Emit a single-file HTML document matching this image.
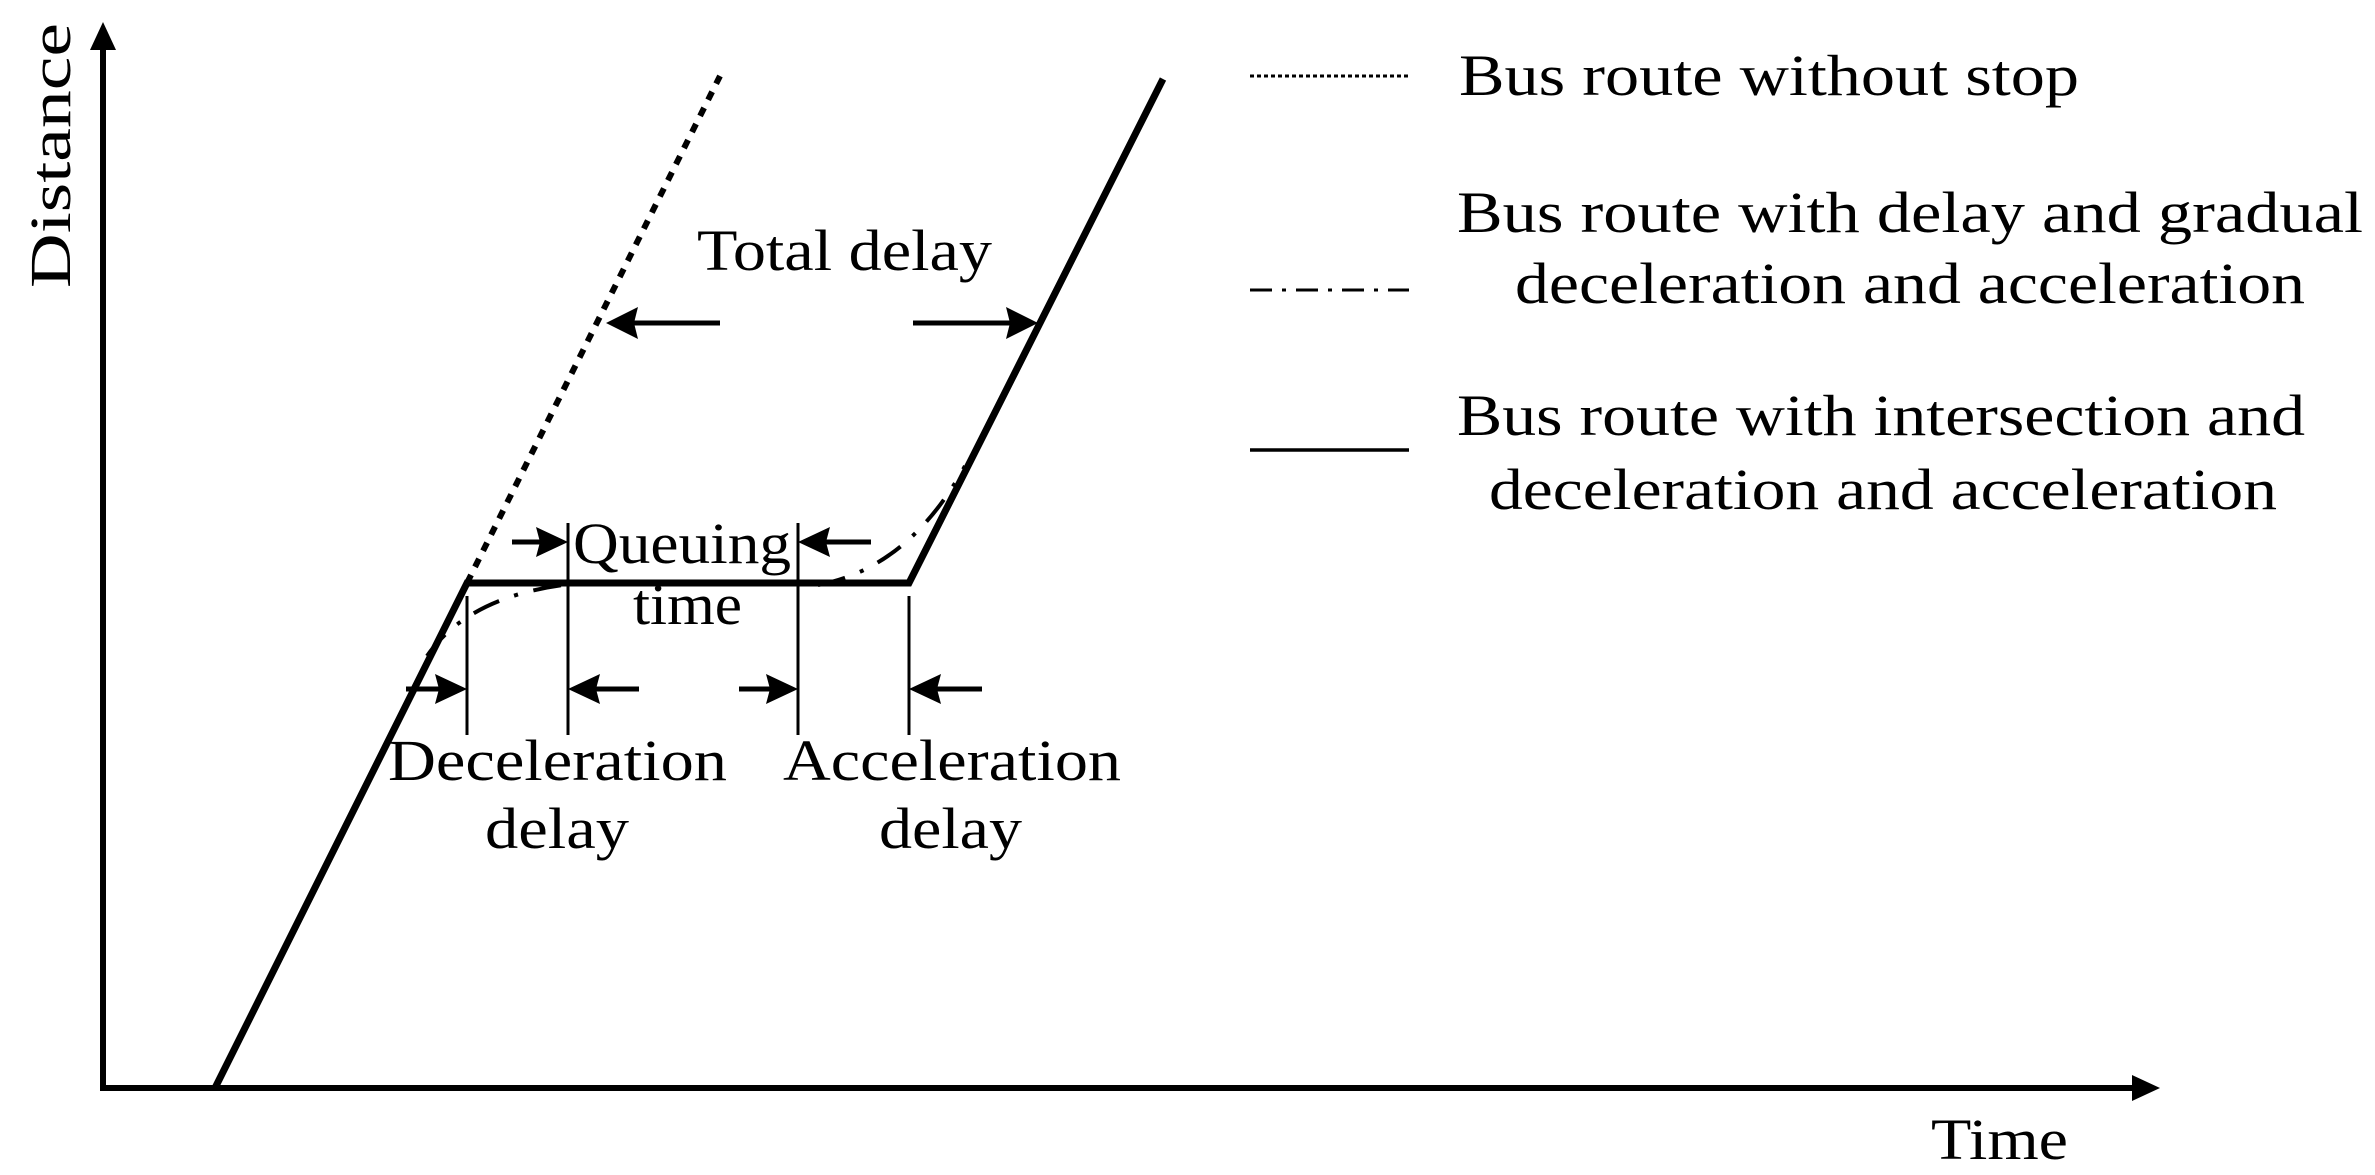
<!DOCTYPE html>
<html><head><meta charset="utf-8"><style>html,body{margin:0;padding:0;background:#fff}svg{display:block}</style></head>
<body>
<svg width="2375" height="1175" viewBox="0 0 2375 1175" xmlns="http://www.w3.org/2000/svg" font-family="'Liberation Serif', serif" font-size="58" fill="#000">
<defs>
<marker id="ah" markerWidth="10" markerHeight="10" refX="10" refY="5" orient="auto" markerUnits="userSpaceOnUse" viewBox="0 0 10 10"></marker>
</defs>
<!-- axes -->
<line x1="103" y1="1088" x2="103" y2="45" stroke="#000" stroke-width="6"/>
<polygon points="103,22 90,50 116,50" fill="#000"/>
<line x1="100" y1="1088" x2="2135" y2="1088" stroke="#000" stroke-width="6"/>
<polygon points="2160,1088 2132,1075 2132,1101" fill="#000"/>
<!-- solid route -->
<polyline points="215,1088 467,583 909,583 1163,79" fill="none" stroke="#000" stroke-width="7" stroke-linejoin="miter"/>
<!-- dotted -->
<line x1="467" y1="583" x2="720" y2="76" stroke="#000" stroke-width="6" stroke-dasharray="9 9"/>
<!-- dash-dot curves -->
<path d="M427,656 Q467,598 563,585" fill="none" stroke="#000" stroke-width="4" stroke-dasharray="28 16 4 16"/>
<path d="M818,585 Q909,568 965,466" fill="none" stroke="#000" stroke-width="4" stroke-dasharray="28 16 4 16"/>
<!-- thin verticals -->
<g stroke="#000" stroke-width="3">
<line x1="467" y1="596" x2="467" y2="735"/>
<line x1="568" y1="523" x2="568" y2="735"/>
<line x1="798" y1="523" x2="798" y2="735"/>
<line x1="909" y1="596" x2="909" y2="735"/>
</g>
<!-- arrows -->
<g stroke="#000" stroke-width="5">
<line x1="512" y1="542" x2="540" y2="542"/>
<line x1="871" y1="542" x2="826" y2="542"/>
<line x1="406" y1="689" x2="440" y2="689"/>
<line x1="639" y1="689" x2="596" y2="689"/>
<line x1="739" y1="689" x2="770" y2="689"/>
<line x1="982" y1="689" x2="937" y2="689"/>
<line x1="720" y1="323" x2="634" y2="323"/>
<line x1="913" y1="323" x2="1010" y2="323"/>
</g>
<g fill="#000">
<polygon points="568,542 536,527 540,542 536,557"/>
<polygon points="798,542 830,527 826,542 830,557"/>
<polygon points="467,689 435,674 439,689 435,704"/>
<polygon points="568,689 600,674 596,689 600,704"/>
<polygon points="798,689 766,674 770,689 766,704"/>
<polygon points="909,689 941,674 937,689 941,704"/>
<polygon points="606,323 638,307 634,323 638,339"/>
<polygon points="1038,323 1006,307 1010,323 1006,339"/>
</g>
<!-- labels -->
<text x="697" y="270" textLength="295" lengthAdjust="spacingAndGlyphs">Total delay</text>
<text x="573" y="563" textLength="218" lengthAdjust="spacingAndGlyphs">Queuing</text>
<text x="633" y="624" textLength="109" lengthAdjust="spacingAndGlyphs">time</text>
<text x="388" y="780" textLength="339" lengthAdjust="spacingAndGlyphs">Deceleration</text>
<text x="485" y="848" textLength="144" lengthAdjust="spacingAndGlyphs">delay</text>
<text x="783" y="780" textLength="338" lengthAdjust="spacingAndGlyphs">Acceleration</text>
<text x="879" y="848" textLength="143" lengthAdjust="spacingAndGlyphs">delay</text>
<text transform="translate(70,288) rotate(-90)" x="0" y="0" textLength="265" lengthAdjust="spacingAndGlyphs">Distance</text>
<text x="1931" y="1159" textLength="137" lengthAdjust="spacingAndGlyphs">Time</text>
<!-- legend -->
<line x1="1250" y1="76" x2="1409" y2="76" stroke="#000" stroke-width="3" stroke-dasharray="4 3"/>
<line x1="1250" y1="290" x2="1409" y2="290" stroke="#000" stroke-width="3" stroke-dasharray="22 10 4 10"/>
<line x1="1250" y1="450" x2="1409" y2="450" stroke="#000" stroke-width="3.5"/>
<text x="1459" y="95" textLength="620" lengthAdjust="spacingAndGlyphs">Bus route without stop</text>
<text x="1457" y="232" textLength="906" lengthAdjust="spacingAndGlyphs">Bus route with delay and gradual</text>
<text x="1515" y="303" textLength="790" lengthAdjust="spacingAndGlyphs">deceleration and acceleration</text>
<text x="1457" y="435" textLength="848" lengthAdjust="spacingAndGlyphs">Bus route with intersection and</text>
<text x="1489" y="509" textLength="788" lengthAdjust="spacingAndGlyphs">deceleration and acceleration</text>
</svg>
</body></html>
